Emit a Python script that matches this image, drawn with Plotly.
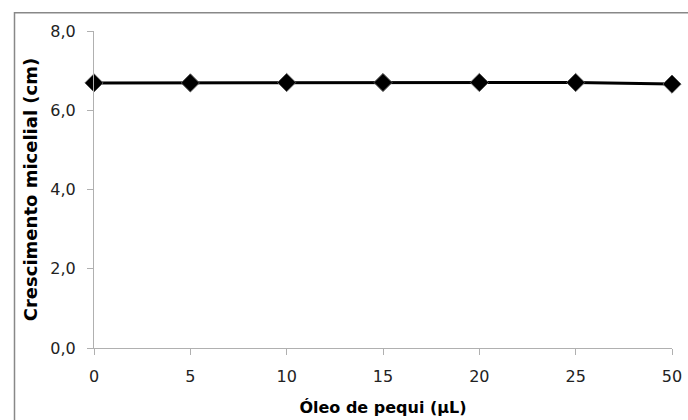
import plotly.graph_objects as go

categories = ["0", "5", "10", "15", "20", "25", "50"]
values = [6.69, 6.69, 6.70, 6.70, 6.70, 6.70, 6.66]
y_ticks = [0, 2, 4, 6, 8]
y_tick_labels = ["0,0", "2,0", "4,0", "6,0", "8,0"]

FONT = "DejaVu Sans"

fig = go.Figure()
fig.add_trace(go.Scatter(
    x=categories, y=values, mode="lines+markers",
    line=dict(color="black", width=3),
    marker=dict(symbol="diamond", size=14, color="black",
                line=dict(color="#555555", width=1)),
    cliponaxis=False, showlegend=False,
))

W, H = 688, 420
L, R, T, B = 94, 16, 31, 72
pw, ph = W - L - R, H - T - B

def px_x(p):
    return (p - L) / pw

def px_y(p):
    return (H - B - p) / ph

fig.update_layout(
    width=W, height=H,
    margin=dict(l=L, r=R, t=T, b=B),
    paper_bgcolor="white", plot_bgcolor="white",
    font=dict(family=FONT, color="black", size=16),
    xaxis=dict(
        type="category", range=[0, 6], automargin=False,
        showgrid=False, showline=True, linecolor="#b0b0b0", linewidth=1,
        ticks="outside", ticklen=6, tickcolor="#b0b0b0", ticklabelstandoff=8,
        tickfont=dict(size=16, family=FONT, color="#222222"),
        title=dict(text="<b>Óleo de pequi (µL)</b>", font=dict(size=16, family=FONT), standoff=16),
        zeroline=False,
    ),
    yaxis=dict(
        range=[0, 8], tickvals=y_ticks, ticktext=y_tick_labels, automargin=False,
        showgrid=False, showline=True, linecolor="#b0b0b0", linewidth=1,
        ticks="outside", ticklen=6, tickcolor="#b0b0b0", ticklabelstandoff=8,
        tickfont=dict(size=16, family=FONT, color="#222222"),
        title=dict(text="<b>Crescimento micelial (cm)</b>", font=dict(size=18, family=FONT), standoff=8),
        zeroline=False,
    ),
    shapes=[dict(
        type="rect", xref="paper", yref="paper",
        x0=px_x(14.5), x1=px_x(700), y0=px_y(440), y1=px_y(12.7),
        line=dict(color="#888888", width=1.5), fillcolor="rgba(0,0,0,0)",
        layer="below",
    )],
)

fig.write_html("out.html", config={"displayModeBar": False},
               post_script="document.body.style.margin='0';")
